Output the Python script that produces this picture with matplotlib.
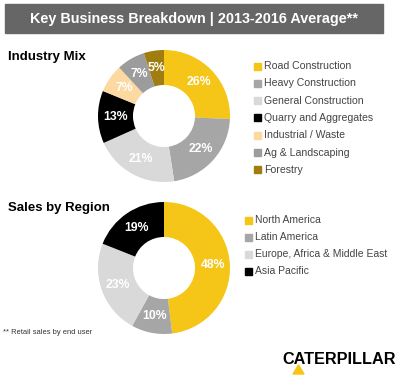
import matplotlib
matplotlib.use("Agg")
import matplotlib.pyplot as plt
from matplotlib.patches import Rectangle, Polygon

W, H = 400, 375
industry_labels = ["Road Construction", "Heavy Construction", "General Construction",
                   "Quarry and Aggregates", "Industrial / Waste", "Ag & Landscaping", "Forestry"]
industry_values = [26, 22, 21, 13, 7, 7, 5]
industry_colors = ["#f5c518", "#a6a6a6", "#d9d9d9", "#000000", "#fcd9a0", "#9c9c9c", "#a07d10"]

region_labels = ["North America", "Latin America", "Europe, Africa & Middle East", "Asia Pacific"]
region_values = [48, 10, 23, 19]
region_colors = ["#f5c518", "#a6a6a6", "#d9d9d9", "#000000"]

plt.rcParams['font.family'] = ['Liberation Sans', 'DejaVu Sans']
fig = plt.figure(figsize=(W / 100, H / 100), dpi=100)
bg = fig.add_axes([0, 0, 1, 1])
bg.set_xlim(0, W)
bg.set_ylim(H, 0)
bg.axis("off")

# title bar
bg.add_patch(Rectangle((5, 4), 378, 29, color="#666666"))
bg.text(194, 18.5, "Key Business Breakdown | 2013-2016 Average**", color="white",
        fontsize=10.4, fontweight="bold", ha="center", va="center")

bg.text(8, 57, "Industry Mix", fontsize=9.5, fontweight="bold", va="center")
bg.text(8, 208, "Sales by Region", fontsize=9.5, fontweight="bold", va="center")
bg.text(3, 333, "** Retail sales by end user", fontsize=5.4, va="center", color="#333333")


def donut(cx, cy, r, values, colors):
    ax = fig.add_axes([(cx - r) / W, 1 - (cy + r) / H, 2 * r / W, 2 * r / H])
    ax.pie(values, colors=colors, startangle=90, counterclock=False,
           radius=1.0, wedgeprops=dict(width=0.53, edgecolor="none"),
           labels=[f"{v}%" for v in values], labeldistance=0.74,
           textprops=dict(color="white", fontweight="bold", fontsize=8.8,
                          ha="center", va="center"))
    ax.set_xlim(-1, 1)
    ax.set_ylim(-1, 1)
    ax.set_aspect("equal")
    return ax


donut(164, 116, 66, industry_values, industry_colors)
donut(164, 268, 66, region_values, region_colors)


def legend(x, y0, dy, labels, colors, fs):
    for i, (lab, c) in enumerate(zip(labels, colors)):
        y = y0 + i * dy
        bg.add_patch(Rectangle((x, y - 3.5), 7, 7, color=c))
        bg.text(x + 10, y, lab, fontsize=fs, va="center", color="#444444")


legend(254, 66, 17.3, industry_labels, industry_colors, 7.6)
legend(245, 220, 17.0, region_labels, region_colors, 7.5)

# logo
bg.text(339, 359, "CATERPILLAR", fontsize=11.7, fontweight="bold", ha="center",
        va="center", color="black")
bg.add_patch(Polygon([[293, 374], [298.5, 365], [304, 374]], color="#f5c518"))

fig.savefig("out.png", dpi=100)
